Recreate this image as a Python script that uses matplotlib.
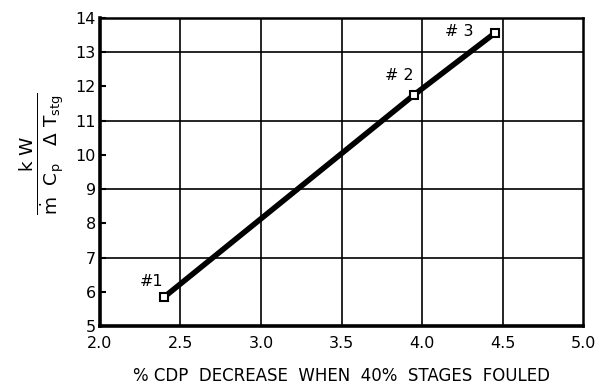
import matplotlib
matplotlib.use("Agg")
import matplotlib.pyplot as plt

# Fouling test points
cdp_decrease = [2.4, 3.95, 4.45]
kw_ratio = [5.85, 11.75, 13.55]
point_labels = ["#1", "# 2", "# 3"]

x_ticks = [2.0, 2.5, 3.0, 3.5, 4.0, 4.5, 5.0]
y_ticks = [5, 6, 7, 8, 9, 10, 11, 12, 13, 14]
y_grid = [7, 9, 11, 13]

plt.rcParams["font.family"] = ["DejaVu Sans"]
plt.rcParams["mathtext.fontset"] = "dejavusans"
plt.rcParams["mathtext.default"] = "regular"

fig = plt.figure(figsize=(5.95, 3.89), dpi=100)
ax = fig.add_axes([0.168, 0.162, 0.812, 0.792])

ax.set_xlim(2.0, 5.0)
ax.set_ylim(5, 14)

for xv in x_ticks[1:-1]:
    ax.axvline(xv, color="black", lw=1.2, zorder=1)
for yv in y_grid:
    ax.axhline(yv, color="black", lw=1.2, zorder=1)

ax.plot(cdp_decrease, kw_ratio, color="black", lw=4, solid_capstyle="butt", zorder=3)
ax.plot(cdp_decrease, kw_ratio, ls="none", marker="s", ms=5.5, mfc="white",
        mec="black", mew=1.5, zorder=4)

offsets = [(-0.08, 0.45), (-0.09, 0.56), (-0.22, 0.05)]
for xv, yv, lab, (dx, dy) in zip(cdp_decrease, kw_ratio, point_labels, offsets):
    ax.text(xv + dx, yv + dy, lab, fontsize=11.5, ha="center", va="center", zorder=5)

ax.set_xticks(x_ticks)
ax.set_xticklabels([f"{v:.1f}" for v in x_ticks])
ax.set_yticks(y_ticks)
ax.tick_params(axis="both", direction="in", length=4, width=1.5, labelsize=11.5,
               pad=3)
ax.tick_params(axis="x", length=0, pad=7)

for side in ["left", "bottom"]:
    ax.spines[side].set_linewidth(2.6)
for side in ["top", "right"]:
    ax.spines[side].set_linewidth(1.8)

ax.set_xlabel("% CDP  DECREASE  WHEN  40%  STAGES  FOULED", fontsize=12, labelpad=12)
ax.set_ylabel(r"$\frac{k\ W}{\dot{m}\ \ C_p\ \ \ \Delta\ T_{stg}}$", fontsize=19)
ax.yaxis.set_label_coords(-0.07, 0.56)

fig.savefig("out.png", dpi=100)
